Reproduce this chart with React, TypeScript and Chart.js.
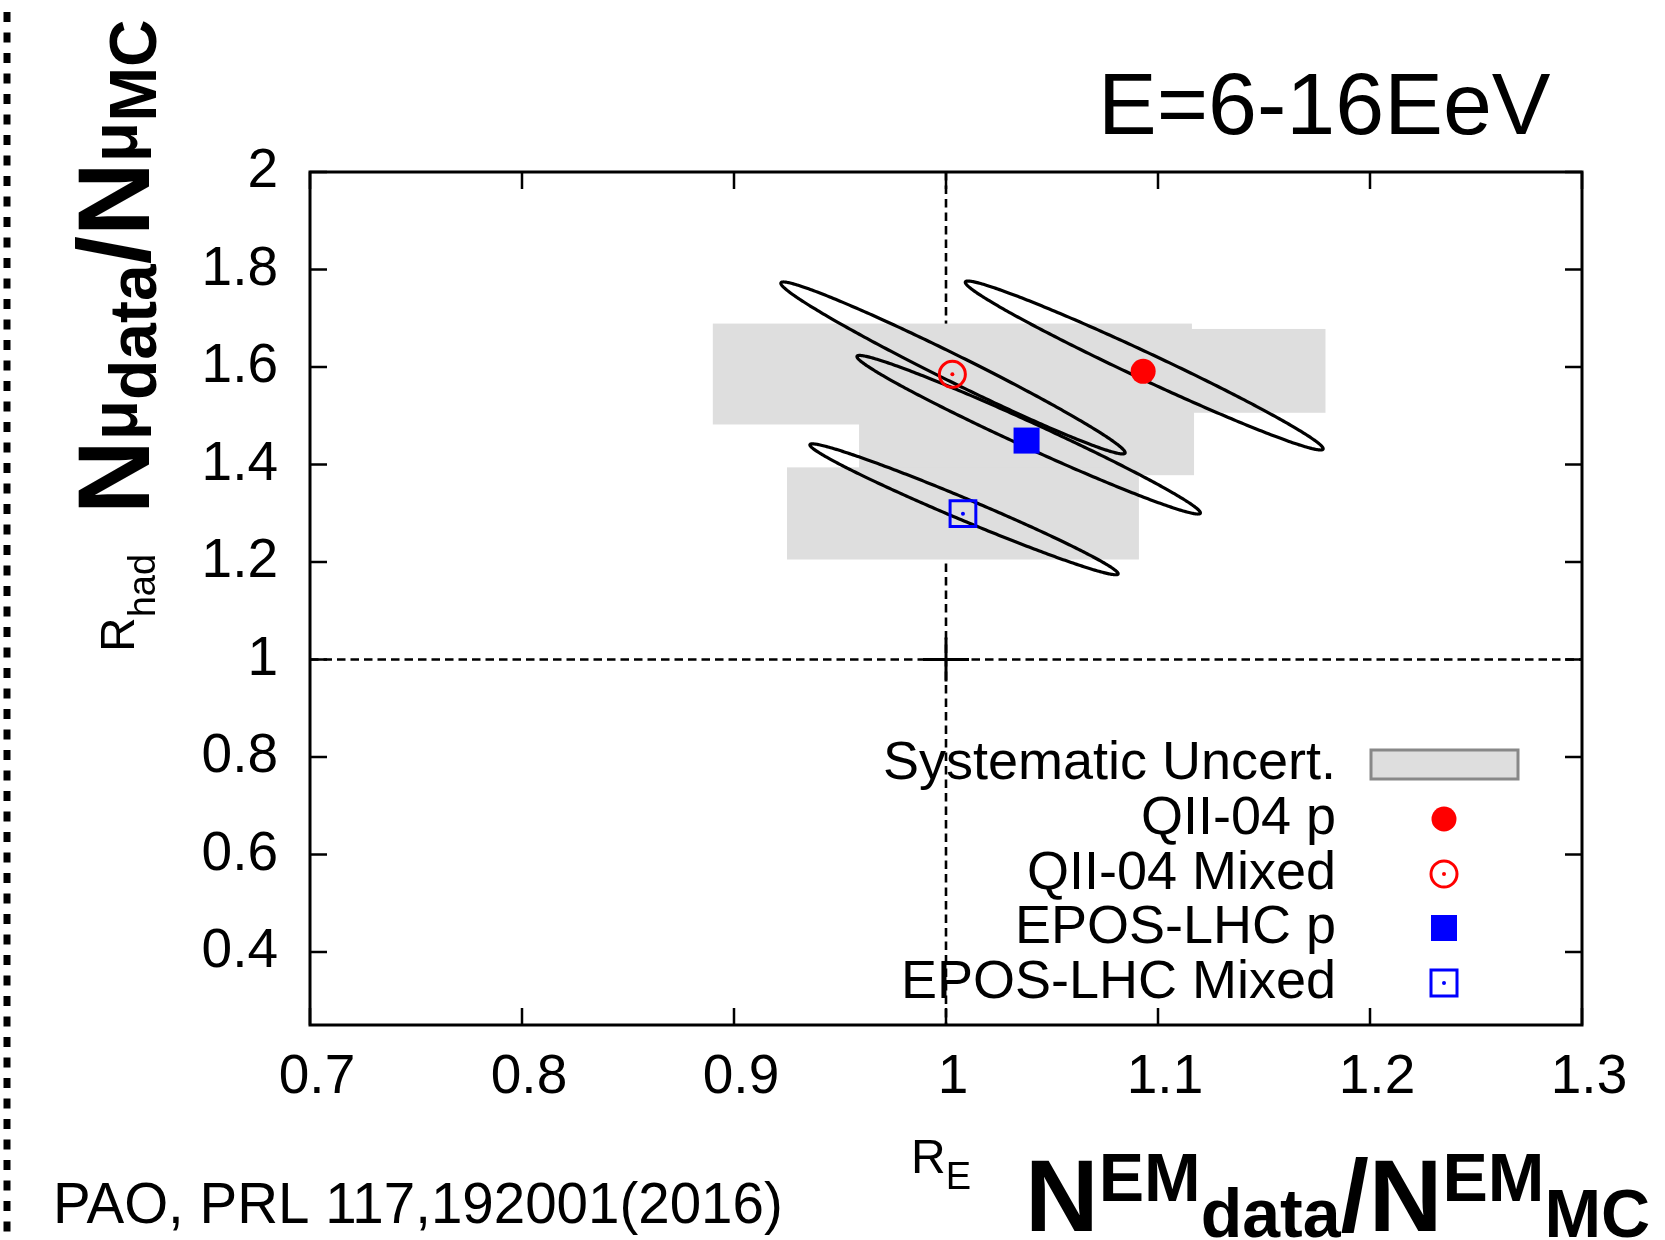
import React, { useEffect, useRef } from "react";
import { Chart, registerables } from "chart.js";

Chart.register(...registerables);

// ---- axis ticks ----
const xTickValues = [0.7, 0.8, 0.9, 1.0, 1.1, 1.2, 1.3];
const yTickValues = [0.4, 0.6, 0.8, 1.0, 1.2, 1.4, 1.6, 1.8, 2.0];

// ---- models (order: QII-04 p, QII-04 Mixed, EPOS-LHC p, EPOS-LHC Mixed) ----
const modelNames = ["QII-04 p", "QII-04 Mixed", "EPOS-LHC p", "EPOS-LHC Mixed"];
const rE = [1.093, 1.003, 1.038, 1.008];
const rHad = [1.591, 1.585, 1.449, 1.299];

// systematic uncertainty boxes (lower / upper edges)
const sysELow = [1.007, 0.89, 0.959, 0.925];
const sysEHigh = [1.179, 1.116, 1.117, 1.091];
const sysHadLow = [1.506, 1.482, 1.378, 1.205];
const sysHadHigh = [1.678, 1.689, 1.52, 1.394];

// statistical 1-sigma contours: centre, widths, correlation
const statCentreE = [1.0935, 1.0033, 1.039, 1.0085];
const statCentreHad = [1.603, 1.598, 1.461, 1.308];
const statSigmaE = [0.0844, 0.0812, 0.081, 0.0727];
const statSigmaHad = [0.1733, 0.1764, 0.1627, 0.1343];
const statCorr = [-0.985, -0.985, -0.985, -0.984];

const RED = "#ff0000";
const BLUE = "#0000ff";
const BOX_FILL = "#dedede";
const FONT = "'Liberation Sans', Arial, Helvetica, sans-serif";

type Seg = { t: string; f: string; d: number };

function drawRun(ctx: CanvasRenderingContext2D, segs: Seg[], x0: number, base: number) {
  let x = x0;
  ctx.textAlign = "left";
  ctx.textBaseline = "alphabetic";
  for (const s of segs) {
    ctx.font = s.f;
    ctx.fillText(s.t, x, base + s.d);
    x += ctx.measureText(s.t).width;
  }
}

function drawMarker(ctx: CanvasRenderingContext2D, idx: number, x: number, y: number) {
  ctx.save();
  if (idx === 0) {
    ctx.fillStyle = RED;
    ctx.beginPath();
    ctx.arc(x, y, 12.5, 0, Math.PI * 2);
    ctx.fill();
  } else if (idx === 1) {
    ctx.strokeStyle = RED;
    ctx.lineWidth = 3;
    ctx.beginPath();
    ctx.arc(x, y, 13, 0, Math.PI * 2);
    ctx.stroke();
    ctx.fillStyle = RED;
    ctx.beginPath();
    ctx.arc(x, y, 2, 0, Math.PI * 2);
    ctx.fill();
  } else if (idx === 2) {
    ctx.fillStyle = BLUE;
    ctx.fillRect(x - 13, y - 13, 26, 26);
  } else {
    ctx.strokeStyle = BLUE;
    ctx.lineWidth = 3;
    ctx.strokeRect(x - 13, y - 13, 26, 26);
    ctx.fillStyle = BLUE;
    ctx.beginPath();
    ctx.arc(x, y, 2, 0, Math.PI * 2);
    ctx.fill();
  }
  ctx.restore();
}

const underlayPlugin = {
  id: "underlay",
  beforeDatasetsDraw(chart: any) {
    const ctx: CanvasRenderingContext2D = chart.ctx;
    const xs = chart.scales.x;
    const ys = chart.scales.y;
    const { left, right, top, bottom } = chart.chartArea;
    const x1 = xs.getPixelForValue(1);
    const y1 = ys.getPixelForValue(1);
    ctx.save();
    // reference lines at R = 1
    ctx.strokeStyle = "#000";
    ctx.lineWidth = 2.6;
    ctx.setLineDash([8.5, 5]);
    ctx.beginPath();
    ctx.moveTo(left, y1);
    ctx.lineTo(right, y1);
    ctx.moveTo(x1, top);
    ctx.lineTo(x1, bottom);
    ctx.stroke();
    ctx.setLineDash([]);
    ctx.lineWidth = 3;
    ctx.beginPath();
    ctx.moveTo(x1 - 23, y1);
    ctx.lineTo(x1 + 23, y1);
    ctx.moveTo(x1, y1 - 22);
    ctx.lineTo(x1, y1 + 22);
    ctx.stroke();

    // systematic boxes
    ctx.fillStyle = BOX_FILL;
    for (let i = 0; i < modelNames.length; i++) {
      const xa = xs.getPixelForValue(sysELow[i]);
      const xb = xs.getPixelForValue(sysEHigh[i]);
      const ya = ys.getPixelForValue(sysHadHigh[i]);
      const yb = ys.getPixelForValue(sysHadLow[i]);
      ctx.fillRect(xa, ya, xb - xa, yb - ya);
    }

    // statistical contours
    ctx.strokeStyle = "#000";
    ctx.lineWidth = 3.2;
    ctx.lineJoin = "round";
    for (let i = 0; i < modelNames.length; i++) {
      const r = statCorr[i];
      const q = Math.sqrt(1 - r * r);
      ctx.beginPath();
      const n = 360;
      for (let k = 0; k <= n; k++) {
        const t = (k / n) * Math.PI * 2;
        const vx = statCentreE[i] + statSigmaE[i] * Math.cos(t);
        const vy = statCentreHad[i] + statSigmaHad[i] * (r * Math.cos(t) + q * Math.sin(t));
        const px = xs.getPixelForValue(vx);
        const py = ys.getPixelForValue(vy);
        if (k === 0) ctx.moveTo(px, py);
        else ctx.lineTo(px, py);
      }
      ctx.closePath();
      ctx.stroke();
    }
    ctx.restore();
  },
  afterDatasetsDraw(chart: any) {
    const ctx: CanvasRenderingContext2D = chart.ctx;
    // centre dots of the open markers
    [1, 3].forEach((di) => {
      const meta = chart.getDatasetMeta(di);
      meta.data.forEach((el: any) => {
        ctx.save();
        ctx.fillStyle = di === 1 ? RED : BLUE;
        ctx.beginPath();
        ctx.arc(el.x, el.y, 2, 0, Math.PI * 2);
        ctx.fill();
        ctx.restore();
      });
    });
  },
  afterDraw(chart: any) {
    const ctx: CanvasRenderingContext2D = chart.ctx;
    const xs = chart.scales.x;
    const ys = chart.scales.y;
    const { left, right, top, bottom } = chart.chartArea;
    ctx.save();
    // frame and inward ticks
    ctx.strokeStyle = "#000";
    ctx.lineWidth = 2.5;
    ctx.beginPath();
    xTickValues.forEach((v) => {
      const p = xs.getPixelForValue(v);
      ctx.moveTo(p, bottom);
      ctx.lineTo(p, bottom - 17);
      ctx.moveTo(p, top);
      ctx.lineTo(p, top + 17);
    });
    yTickValues.forEach((v) => {
      const p = ys.getPixelForValue(v);
      ctx.moveTo(left, p);
      ctx.lineTo(left + 17, p);
      ctx.moveTo(right, p);
      ctx.lineTo(right - 17, p);
    });
    ctx.stroke();
    ctx.lineWidth = 3;
    ctx.strokeRect(left, top, right - left, bottom - top);

    // legend
    const legX = 1336;
    const legMarkX = 1444;
    const rows = [764, 819, 874, 928, 983];
    ctx.fillStyle = "#000";
    ctx.font = `54px ${FONT}`;
    ctx.textAlign = "right";
    ctx.textBaseline = "middle";
    ctx.fillText("Systematic Uncert.", legX, rows[0]);
    ctx.fillStyle = BOX_FILL;
    ctx.fillRect(1371, rows[0] - 14, 147, 29);
    ctx.strokeStyle = "#888888";
    ctx.lineWidth = 3;
    ctx.strokeRect(1371, rows[0] - 14, 147, 29);
    modelNames.forEach((name, i) => {
      ctx.fillStyle = "#000";
      ctx.font = `54px ${FONT}`;
      ctx.textAlign = "right";
      ctx.textBaseline = "middle";
      ctx.fillText(name, legX, rows[i + 1]);
      drawMarker(ctx, i, legMarkX, rows[i + 1]);
    });

    // energy range
    ctx.fillStyle = "#000";
    ctx.font = `88px ${FONT}`;
    ctx.textAlign = "left";
    ctx.textBaseline = "alphabetic";
    ctx.fillText("E=6-16EeV", 1098, 134);

    // reference
    ctx.font = `56.5px ${FONT}`;
    ctx.fillText("PAO, PRL 117,192001(2016)", 53, 1223);

    // x-axis title
    const big = `bold 102px ${FONT}`;
    const smallX = `bold 68px ${FONT}`;
    const smallY = `bold 66px ${FONT}`;
    drawRun(ctx, [
      { t: "R", f: `48px ${FONT}`, d: 0 },
      { t: "E", f: `38px ${FONT}`, d: 16 },
    ], 911, 1173);
    drawRun(ctx, [
      { t: "N", f: big, d: 0 },
      { t: "EM", f: smallX, d: -30 },
      { t: "data", f: smallX, d: 6 },
      { t: "/", f: big, d: 0 },
      { t: "N", f: big, d: 0 },
      { t: "EM", f: smallX, d: -30 },
      { t: "MC", f: smallX, d: 6 },
    ], 1025, 1231);

    // y-axis title (rotated)
    ctx.save();
    ctx.translate(134, 652);
    ctx.rotate(-Math.PI / 2);
    drawRun(ctx, [
      { t: "R", f: `48px ${FONT}`, d: 0 },
      { t: "had", f: `38px ${FONT}`, d: 21 },
    ], 0, 0);
    ctx.restore();
    ctx.save();
    ctx.translate(149, 514);
    ctx.rotate(-Math.PI / 2);
    drawRun(ctx, [
      { t: "N", f: big, d: 0 },
      { t: "μ", f: smallY, d: -12 },
      { t: "data", f: smallY, d: 7 },
      { t: "/", f: big, d: 0 },
      { t: "N", f: big, d: 0 },
      { t: "μ", f: smallY, d: -12 },
      { t: "MC", f: smallY, d: 7 },
    ], 0, 0);
    ctx.restore();

    // dashed page border on the left
    ctx.strokeStyle = "#000";
    ctx.lineWidth = 7;
    ctx.setLineDash([10, 10.5]);
    ctx.beginPath();
    ctx.moveTo(7, 12);
    ctx.lineTo(7, 1240);
    ctx.stroke();
    ctx.restore();
  },
};

export default function App() {
  const canvasRef = useRef<HTMLCanvasElement | null>(null);

  useEffect(() => {
    const canvas = canvasRef.current;
    if (!canvas) return;
    const tickFont = { family: FONT, size: 55 };
    const fmt = (v: any) => String(Number(Number(v).toFixed(2)));
    const chart = new Chart(canvas, {
      type: "scatter",
      data: {
        datasets: [
          {
            label: modelNames[0],
            data: [{ x: rE[0], y: rHad[0] }],
            pointStyle: "circle",
            pointRadius: 12.5,
            backgroundColor: RED,
            borderColor: RED,
            borderWidth: 0,
          },
          {
            label: modelNames[1],
            data: [{ x: rE[1], y: rHad[1] }],
            pointStyle: "circle",
            pointRadius: 13,
            backgroundColor: "rgba(0,0,0,0)",
            borderColor: RED,
            borderWidth: 3,
          },
          {
            label: modelNames[2],
            data: [{ x: rE[2], y: rHad[2] }],
            pointStyle: "rect",
            pointRadius: 18.4,
            backgroundColor: BLUE,
            borderColor: BLUE,
            borderWidth: 0,
          },
          {
            label: modelNames[3],
            data: [{ x: rE[3], y: rHad[3] }],
            pointStyle: "rect",
            pointRadius: 18.2,
            backgroundColor: "rgba(0,0,0,0)",
            borderColor: BLUE,
            borderWidth: 3,
          },
        ],
      },
      options: {
        responsive: false,
        animation: false,
        events: [],
        layout: { padding: { top: 172, right: 83, left: 0, bottom: 0 } },
        plugins: { legend: { display: false }, tooltip: { enabled: false } },
        scales: {
          x: {
            type: "linear",
            min: 0.7,
            max: 1.3,
            grid: { display: false, drawTicks: false },
            border: { display: false },
            afterBuildTicks: (s: any) => {
              s.ticks = xTickValues.map((v) => ({ value: v }));
            },
            afterFit: (s: any) => {
              s.height = 215;
            },
            ticks: {
              padding: 20,
              labelOffset: 7,
              color: "#000",
              font: tickFont,
              maxRotation: 0,
              autoSkip: false,
              callback: fmt,
            },
          },
          y: {
            type: "linear",
            min: 0.25,
            max: 2,
            grid: { display: false, drawTicks: false },
            border: { display: false },
            afterBuildTicks: (s: any) => {
              s.ticks = yTickValues.map((v) => ({ value: v }));
            },
            afterFit: (s: any) => {
              s.width = 310;
            },
            ticks: {
              padding: 32,
              color: "#000",
              font: tickFont,
              autoSkip: false,
              callback: fmt,
            },
          },
        },
      },
      plugins: [underlayPlugin],
    } as any);
    return () => chart.destroy();
  }, []);

  return (
    <div style={{ position: "absolute", left: 0, top: 0, width: 1665, height: 1240, background: "#fff" }}>
      <canvas ref={canvasRef} width={1665} height={1240} style={{ display: "block" }} />
    </div>
  );
}
